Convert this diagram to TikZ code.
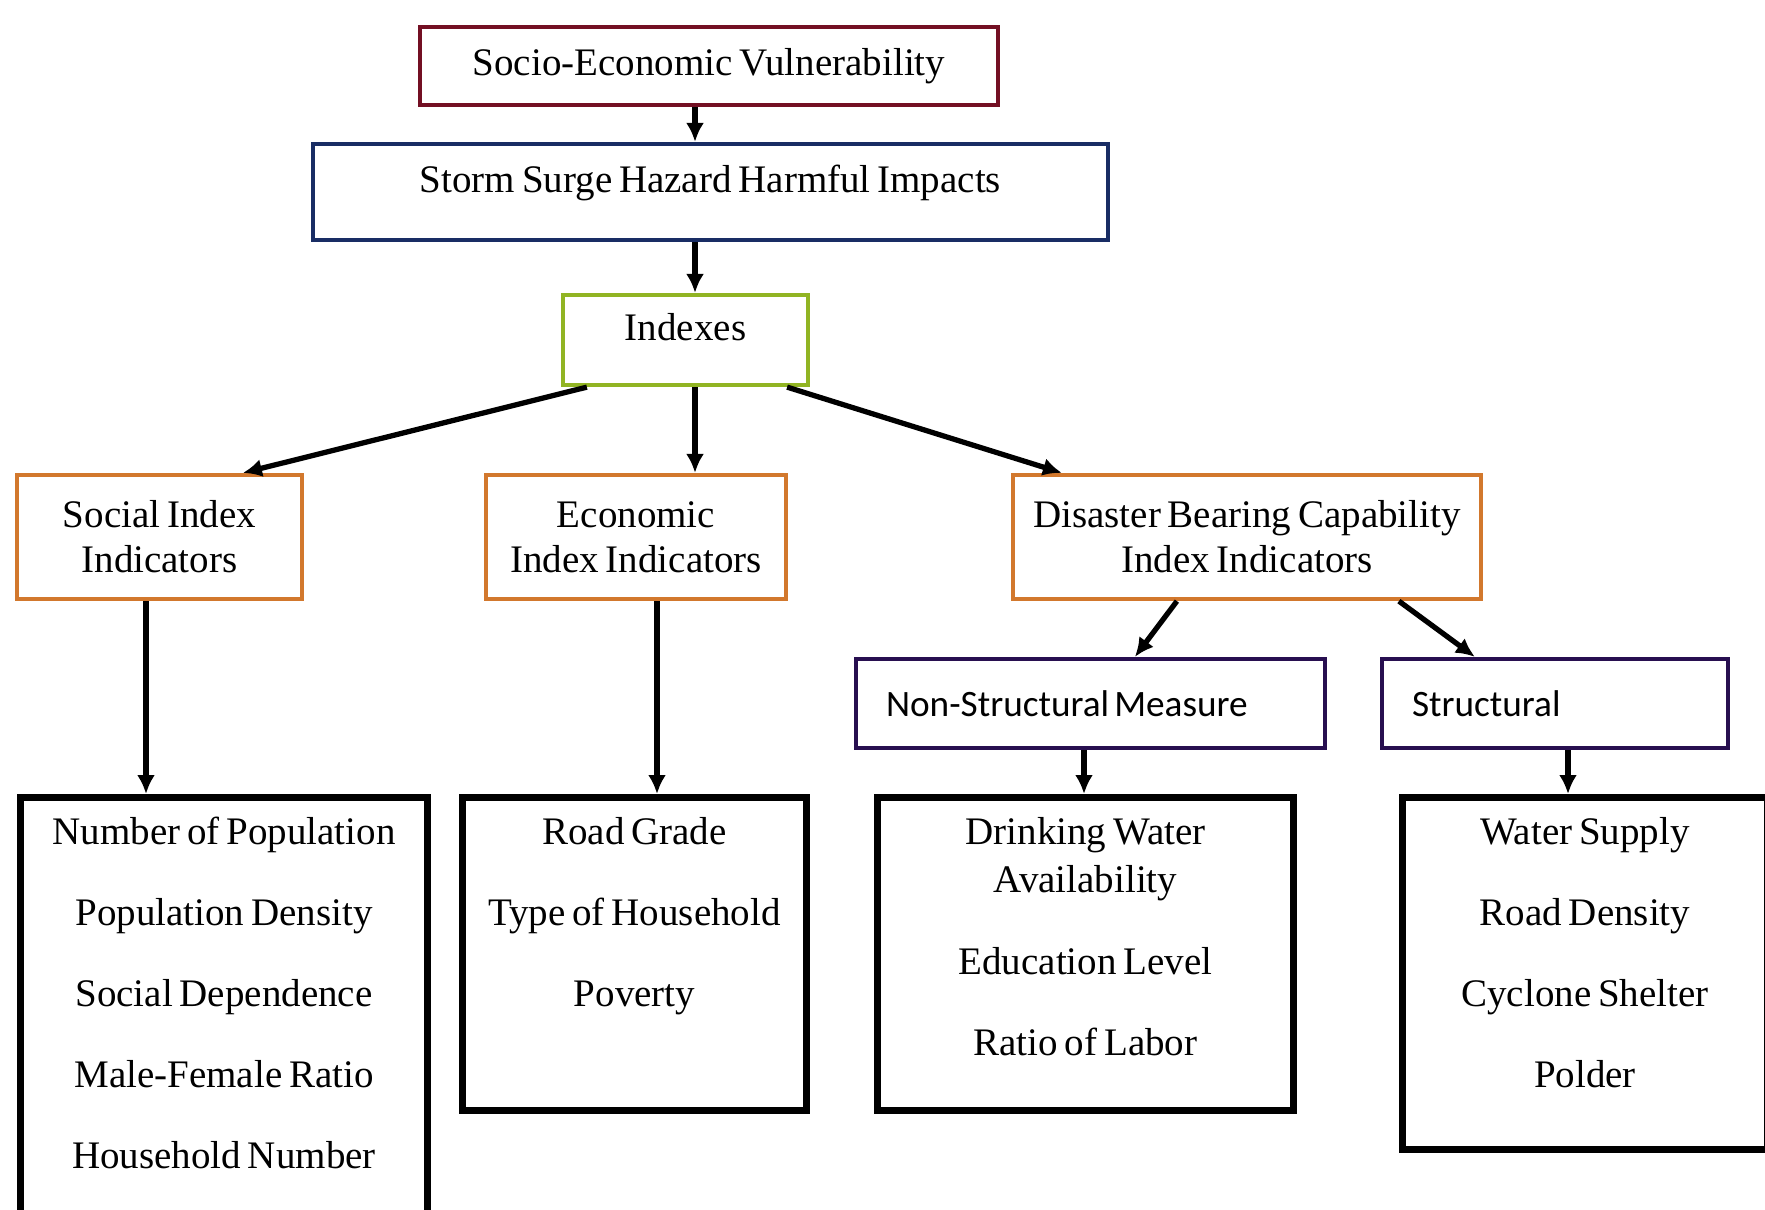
\documentclass[tikz,border=0pt]{standalone}
\usepackage{fontspec}
\setmainfont{Liberation Serif}[WordSpace=0.7]
\newfontfamily\calibrifont{Carlito}[WordSpace=0.6]
\usetikzlibrary{arrows.meta}

\definecolor{maroonline}{RGB}{115,15,35}
\definecolor{navyline}{RGB}{25,45,100}
\definecolor{oliveline}{RGB}{145,180,35}
\definecolor{orangeline}{RGB}{210,120,45}
\definecolor{indigoline}{RGB}{40,15,80}

\tikzstyle{block} = [rectangle, line width=1.2pt, text centered, font=\fontsize{11.1}{12.8}\selectfont]
\tikzstyle{raised} = [text height=0.7em, text depth=0.7em]
\tikzstyle{sidebox} = [rectangle, line width=1.2pt, draw=indigoline, align=flush left, inner xsep=0.28cm, font=\calibrifont\fontsize{10.6}{13}\selectfont]
\tikzstyle{listbox} = [rectangle, line width=2pt, draw=black, anchor=north, align=flush center, inner xsep=0pt, inner ysep=0.1cm, text height=0.365cm, font=\fontsize{11.1}{23.1}\selectfont]
\tikzstyle{arrow} = [line width=1.5pt, -{Latex[length=1.9mm,width=1.8mm]}]

\begin{document}
\begin{tikzpicture}
\useasboundingbox (0,0) rectangle (17.65,-12.09);
\clip (0,0) rectangle (17.65,-12.09);
\coordinate (spine) at (6.95,0);
\coordinate (socline) at (1.46,0);
\coordinate (ecoline) at (6.57,0);
\coordinate (nstline) at (10.84,0);
\coordinate (sstline) at (15.68,0);

\node (svul) [block, draw=maroonline, minimum width=5.78cm, minimum height=0.78cm] at (7.09,-0.66) {Socio-Economic Vulnerability};
\node (storm) [block, raised, draw=navyline, minimum width=7.95cm, minimum height=0.96cm] at (7.105,-1.92) {Storm Surge Hazard Harmful Impacts};
\node (indexes) [block, raised, draw=oliveline, minimum width=2.45cm, minimum height=0.90cm] at (6.855,-3.40) {Indexes};

\node (social) [block, draw=orangeline, align=center, minimum width=2.85cm, minimum height=1.24cm] at (1.595,-5.37) {Social Index\\Indicators};
\node (econ) [block, draw=orangeline, align=center, minimum width=3.00cm, minimum height=1.24cm] at (6.36,-5.37) {Economic\\Index Indicators};
\node (disaster) [block, draw=orangeline, align=center, minimum width=4.68cm, minimum height=1.24cm] at (12.47,-5.37) {Disaster Bearing Capability\\Index Indicators};

\node (nonstr) [sidebox, minimum width=4.69cm, minimum height=0.89cm, text width=4.09cm] at (10.905,-7.035) {Non-Structural Measure};
\node (struct) [sidebox, minimum width=3.46cm, minimum height=0.89cm, text width=2.86cm] at (15.55,-7.035) {Structural};

\node (popul) [listbox, text width=4.07cm, text depth=4.46cm] at (2.24,-7.94) {Number of Population\\Population Density\\Social Dependence\\Male-Female Ratio\\Household Number};
\node (house) [listbox, text width=3.44cm, text depth=2.565cm] at (6.345,-7.94) {Road Grade\\Type of Household\\Poverty};
\node (water) [listbox, text width=4.16cm, text depth=2.565cm] at (10.855,-7.94) {Drinking Water\\[-9.2pt]Availability\\Education Level\\Ratio of Labor};
\node (shelter) [listbox, text width=3.65cm, text depth=2.955cm] at (15.85,-7.94) {Water Supply\\Road Density\\Cyclone Shelter\\Polder};

\draw [arrow] (svul.south -| spine) -- (storm.north -| spine);
\draw [arrow] (storm.south -| spine) -- (indexes.north -| spine);

\draw [arrow] ([xshift=0.26cm]indexes.south west) -- ([xshift=2.28cm]social.north west);
\draw [arrow] (indexes.south -| spine) -- (econ.north -| spine);
\draw [arrow] ([xshift=-0.23cm]indexes.south east) -- ([xshift=0.51cm]disaster.north west);

\draw [arrow] (social.south -| socline) -- (popul.north -| socline);
\draw [arrow] (econ.south -| ecoline) -- (house.north -| ecoline);

\draw [arrow] ([xshift=1.66cm]disaster.south west) -- ([xshift=2.81cm]nonstr.north west);
\draw [arrow] ([xshift=3.88cm]disaster.south west) -- ([xshift=0.95cm]struct.north west);

\draw [arrow] (nonstr.south -| nstline) -- (water.north -| nstline);
\draw [arrow] (struct.south -| sstline) -- (shelter.north -| sstline);
\end{tikzpicture}
\end{document}
